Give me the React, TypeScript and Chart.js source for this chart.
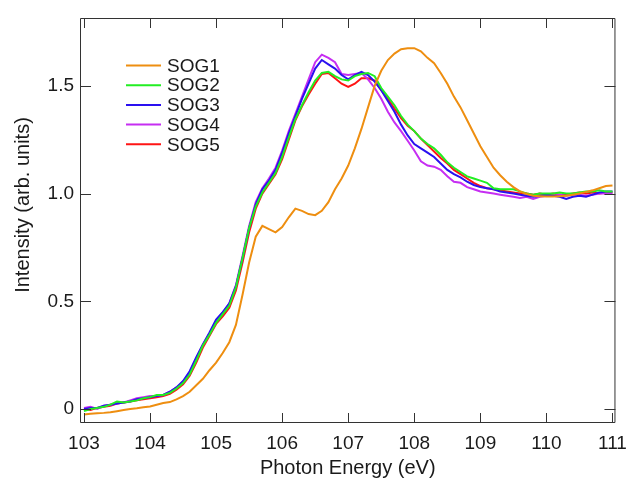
import React, { useEffect, useRef } from "react";
import { Chart, registerables } from "chart.js";

Chart.register(...registerables);

const energy = [
  103.0, 103.1, 103.2, 103.3, 103.4, 103.5, 103.6, 103.7, 103.8, 103.9,
  104.0, 104.1, 104.2, 104.3, 104.4, 104.5, 104.6, 104.7, 104.8, 104.9,
  105.0, 105.1, 105.2, 105.3, 105.4, 105.5, 105.6, 105.7, 105.8, 105.9,
  106.0, 106.1, 106.2, 106.3, 106.4, 106.5, 106.6, 106.7, 106.8, 106.9,
  107.0, 107.1, 107.2, 107.3, 107.4, 107.5, 107.6, 107.7, 107.8, 107.9,
  108.0, 108.1, 108.2, 108.3, 108.4, 108.5, 108.6, 108.7, 108.8, 108.9,
  109.0, 109.1, 109.2, 109.3, 109.4, 109.5, 109.6, 109.7, 109.8, 109.9,
  110.0, 110.1, 110.2, 110.3, 110.4, 110.5, 110.6, 110.7, 110.8, 110.9,
  111.0,
];

const sog1 = [
  -0.025, -0.022, -0.02, -0.018, -0.015, -0.01, -0.005, 0.0, 0.003, 0.008,
  0.012, 0.02, 0.028, 0.032, 0.045, 0.06, 0.08, 0.11, 0.14, 0.18,
  0.215, 0.26, 0.31, 0.39, 0.53, 0.68, 0.8, 0.85, 0.835, 0.82,
  0.845, 0.89, 0.93, 0.92, 0.905, 0.9, 0.92, 0.96, 1.02, 1.07,
  1.13, 1.21, 1.3, 1.4, 1.5, 1.57, 1.62, 1.65, 1.67, 1.675,
  1.675, 1.66, 1.63, 1.605, 1.56, 1.51, 1.45, 1.4, 1.34, 1.28,
  1.22, 1.17, 1.12, 1.085, 1.055, 1.03, 1.01, 0.998, 0.99, 0.988,
  0.986, 0.986, 0.988, 0.99, 0.995, 1.0, 1.008, 1.015, 1.025, 1.035,
  1.037,
];

const sog2 = [
  -0.01, 0.0, 0.005, 0.01, 0.02, 0.035, 0.03, 0.035, 0.04, 0.05,
  0.055, 0.065, 0.065, 0.075, 0.095, 0.12, 0.16, 0.225, 0.295, 0.345,
  0.4, 0.44, 0.48, 0.565, 0.7, 0.84, 0.94, 1.005, 1.05, 1.095,
  1.17, 1.26, 1.345, 1.41, 1.47, 1.525, 1.56, 1.565, 1.545, 1.53,
  1.525, 1.545, 1.555, 1.56, 1.545, 1.49, 1.45, 1.41, 1.36, 1.32,
  1.29, 1.255, 1.23, 1.21, 1.18, 1.145, 1.12, 1.1, 1.08, 1.07,
  1.06, 1.05, 1.025, 1.02, 1.02, 1.02, 1.01, 1.0, 0.995, 1.0,
  1.0, 1.0, 1.005, 1.0, 1.0, 1.005, 1.01, 1.01, 1.015, 1.01,
  1.01,
];

const sog3 = [
  0.0, 0.005, 0.005, 0.015, 0.02, 0.025, 0.03, 0.035, 0.045, 0.05,
  0.055, 0.06, 0.065, 0.08, 0.1, 0.13, 0.175, 0.24, 0.3, 0.355,
  0.415, 0.45, 0.49, 0.57, 0.7, 0.84, 0.95, 1.02, 1.06, 1.11,
  1.19, 1.28, 1.36, 1.44, 1.51, 1.58, 1.62, 1.6, 1.58, 1.55,
  1.53, 1.55, 1.565, 1.55, 1.52, 1.48, 1.43, 1.38, 1.32, 1.27,
  1.23, 1.21, 1.19, 1.17, 1.14, 1.11, 1.09, 1.075, 1.055, 1.04,
  1.03, 1.025, 1.02, 1.01, 1.005, 1.0, 0.995, 0.99, 0.985, 0.99,
  0.995, 0.99, 0.985, 0.975, 0.985, 0.99, 0.985, 0.995, 1.005, 1.01,
  1.01,
];

const sog4 = [
  0.005, 0.01, 0.0, 0.015, 0.02, 0.025, 0.03, 0.04, 0.05, 0.055,
  0.06, 0.06, 0.065, 0.08, 0.1, 0.125, 0.17, 0.235, 0.3, 0.35,
  0.41, 0.445, 0.49, 0.575, 0.71, 0.85, 0.96, 1.025, 1.07, 1.12,
  1.2, 1.29, 1.37, 1.45, 1.53, 1.61, 1.645, 1.63, 1.61, 1.555,
  1.55, 1.555, 1.56, 1.53, 1.49, 1.44, 1.38, 1.33, 1.29, 1.245,
  1.2, 1.15, 1.13, 1.125, 1.11, 1.08, 1.055, 1.05, 1.03, 1.02,
  1.01, 1.005, 1.0, 0.995, 0.99, 0.985, 0.98, 0.985, 0.975, 0.985,
  0.99, 0.99, 0.995, 0.99, 0.995, 0.995, 0.99, 0.995, 1.0, 1.0,
  1.0,
];

const sog5 = [
  0.0, -0.005, 0.005, 0.01, 0.015, 0.025, 0.03, 0.035, 0.04, 0.045,
  0.05, 0.055, 0.06, 0.07, 0.09, 0.115, 0.155, 0.215, 0.285, 0.34,
  0.395, 0.43, 0.47, 0.55, 0.68, 0.82, 0.93, 1.0, 1.045, 1.09,
  1.16, 1.25, 1.34, 1.405, 1.46, 1.51, 1.555, 1.56, 1.535, 1.51,
  1.495, 1.51, 1.535, 1.535, 1.525, 1.48, 1.44, 1.395, 1.35, 1.315,
  1.29, 1.255, 1.225, 1.195, 1.165, 1.14, 1.11, 1.09, 1.07, 1.05,
  1.035, 1.025, 1.02, 1.015, 1.01, 1.005, 1.0, 1.0, 0.995, 1.0,
  0.995, 1.0, 0.995, 0.995, 1.0, 1.005, 1.0, 1.005, 1.0, 1.005,
  1.005,
];

const seriesNames = ["SOG1", "SOG2", "SOG3", "SOG4", "SOG5"];
const seriesValues = [sog1, sog2, sog3, sog4, sog5];
const seriesColors = ["#EE8E10", "#22EE22", "#2A10F0", "#C62EF2", "#FF1414"];

const xTickValues = [103, 104, 105, 106, 107, 108, 109, 110, 111];
const yTickValues = [0, 0.5, 1.0, 1.5];

const xTitle = "Photon Energy (eV)";
const yTitle = "Intensity (arb. units)";

const FONT = "'Liberation Sans', Arial, Helvetica, sans-serif";
const TEXT_COLOR = "#1a1a1a";
const AXIS_COLOR = "#333333";

const framePlugin = {
  id: "igorFrame",
  afterDatasetsDraw(chart: any) {
    const { ctx, chartArea, scales } = chart;
    const { left, right, top, bottom } = chartArea;
    ctx.save();
    ctx.strokeStyle = AXIS_COLOR;
    ctx.lineWidth = 1;
    ctx.beginPath();
    ctx.rect(left + 0.5, top + 0.5, right - left - 1, bottom - top - 1);
    ctx.stroke();
    const tl = 10;
    ctx.beginPath();
    for (const v of xTickValues) {
      const px = Math.round(scales.x.getPixelForValue(v)) + 0.5;
      ctx.moveTo(px, bottom);
      ctx.lineTo(px, bottom - tl);
      ctx.moveTo(px, top);
      ctx.lineTo(px, top + tl);
    }
    for (const v of yTickValues) {
      const py = Math.round(scales.y.getPixelForValue(v)) + 0.5;
      ctx.moveTo(left, py);
      ctx.lineTo(left + tl + 1, py);
      ctx.moveTo(right, py);
      ctx.lineTo(right - tl - 1, py);
    }
    ctx.stroke();

    // axis titles
    ctx.fillStyle = TEXT_COLOR;
    ctx.font = `20px ${FONT}`;
    ctx.textAlign = "center";
    ctx.textBaseline = "alphabetic";
    ctx.fillText(xTitle, (left + right) / 2, 474);
    ctx.save();
    ctx.translate(29, 205);
    ctx.rotate(-Math.PI / 2);
    ctx.fillText(yTitle, 0, 0);
    ctx.restore();

    // legend
    ctx.font = `19px ${FONT}`;
    ctx.textAlign = "left";
    ctx.textBaseline = "middle";
    chart.data.datasets.forEach((ds: any, i: number) => {
      const y = 65.5 + i * 19.7;
      ctx.strokeStyle = ds.borderColor;
      ctx.lineWidth = 2;
      ctx.beginPath();
      ctx.moveTo(126, y);
      ctx.lineTo(161, y);
      ctx.stroke();
      ctx.fillStyle = TEXT_COLOR;
      ctx.fillText(ds.label, 167, y + 1);
    });
    ctx.restore();
  },
};

export default function App() {
  const canvasRef = useRef<HTMLCanvasElement | null>(null);

  useEffect(() => {
    if (!canvasRef.current) return;
    const datasets = seriesNames.map((name, i) => ({
      label: name,
      data: energy.map((e, j) => ({ x: e, y: seriesValues[i][j] })),
      borderColor: seriesColors[i],
      backgroundColor: seriesColors[i],
      borderWidth: 2,
      pointRadius: 0,
      tension: 0,
      fill: false,
    }));
    const chart = new Chart(canvasRef.current, {
      type: "line",
      data: { datasets },
      plugins: [framePlugin],
      options: {
        animation: false,
        responsive: false,
        events: [],
        layout: { padding: { top: 18, right: 14, left: 0, bottom: 0 } },
        plugins: {
          legend: { display: false },
          tooltip: { enabled: false },
        },
        scales: {
          x: {
            type: "linear",
            min: 102.94,
            max: 111.045,
            grid: { display: false, drawTicks: false },
            border: { display: false },
            afterBuildTicks: (s: any) => {
              s.ticks = xTickValues.map((v) => ({ value: v }));
            },
            afterFit: (s: any) => {
              s.height = 55;
            },
            ticks: {
              padding: 9,
              maxRotation: 0,
              autoSkip: false,
              color: TEXT_COLOR,
              font: { family: FONT, size: 19 },
              callback: (v: any) => String(v),
            },
          },
          y: {
            type: "linear",
            min: -0.065,
            max: 1.815,
            grid: { display: false, drawTicks: false },
            border: { display: false },
            afterBuildTicks: (s: any) => {
              s.ticks = yTickValues.map((v) => ({ value: v }));
            },
            afterFit: (s: any) => {
              s.width = 80;
            },
            ticks: {
              padding: 6,
              autoSkip: false,
              color: TEXT_COLOR,
              font: { family: FONT, size: 19 },
              callback: (v: any) => (v === 0 ? "0" : Number(v).toFixed(1)),
            },
          },
        },
      },
    });
    return () => chart.destroy();
  }, []);

  return (
    <div style={{ position: "fixed", left: 0, top: 0, width: 636, height: 478, background: "#fff" }}>
      <canvas ref={canvasRef} width={636} height={478} style={{ width: 636, height: 478 }} />
    </div>
  );
}
